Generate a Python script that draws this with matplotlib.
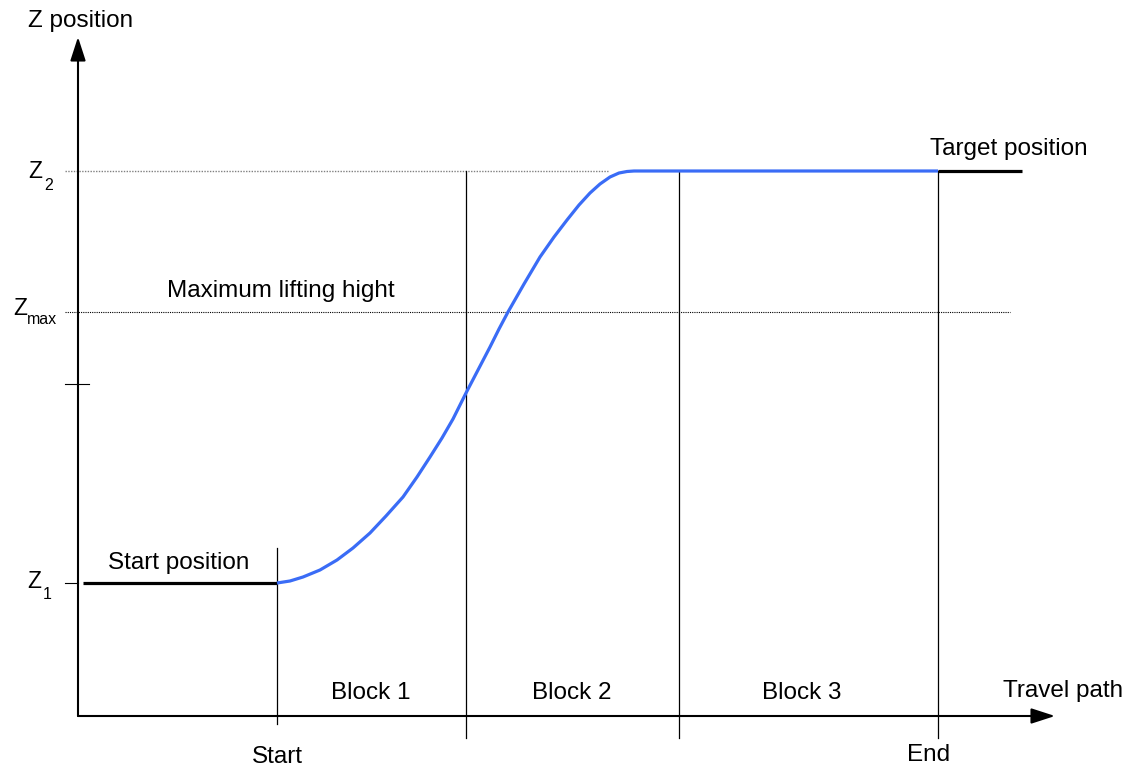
import matplotlib.pyplot as plt

plt.rcParams['font.family'] = ['Liberation Sans', 'DejaVu Sans']

# travel position (x) and Z height (z), units ~ pixels from the origin
z1 = 133
z2 = 545
z_max = 404
z_tick = 332

x_start = 199
x_block12 = 388
x_block23 = 601
x_end = 860

# lift curve (ends on the flat line to the End mark)
curve_x = [199, 212, 225, 242, 259, 275, 292, 308, 325, 339, 352, 364, 375, 388,
           400, 412, 421, 430, 446, 462, 476, 489, 501, 512, 522, 532, 541, 549, 556, 562, 860]
curve_z = [133, 135, 139, 146, 156, 168, 183, 200, 219, 239, 259, 278, 297, 323,
           346, 369, 387, 404, 432, 459, 479, 496, 511, 523, 532, 539, 543, 544.5, 545, 545, 545]

block_labels = ['Block 1', 'Block 2', 'Block 3']
block_centers = [293, 494, 724]

fig = plt.figure(figsize=(11.41, 7.70), dpi=100)
ax = fig.add_axes([0, 0, 1, 1])
ax.set_xlim(-78, 1063)
ax.set_ylim(-54, 716)
ax.axis('off')

fs = 17.5
blue = '#3a6cf6'

# axes with arrows
arr = dict(arrowstyle='-|>,head_length=1.45,head_width=0.47', mutation_scale=10,
           lw=1.5, color='black', shrinkA=0, shrinkB=0)
ax.annotate('', xy=(0, 679), xytext=(0, 0), arrowprops=arr)
ax.annotate('', xy=(977, 0), xytext=(0, 0), arrowprops=arr)

# reference lines
ax.plot([-13, 530], [z2, z2], color='gray', lw=1, ls=(0, (1, 1)))
ax.plot([-13, 932], [z_max, z_max], color='black', lw=0.8, ls=(0, (1, 1)))
ax.plot([-13, 11], [z_tick, z_tick], color='black', lw=0.8)
ax.plot([-13, 0], [z1, z1], color='black', lw=0.8)

# vertical block boundaries
ax.plot([x_start, x_start], [168, -8], color='black', lw=0.9)
for xb in [x_block12, x_block23, x_end]:
    ax.plot([xb, xb], [z2, -22], color='black', lw=0.9)

# start / target positions
ax.plot([5, x_start], [z1, z1], color='black', lw=2.3, solid_capstyle='butt')
ax.plot([x_end, 944], [z2, z2], color='black', lw=2.3, solid_capstyle='butt')

# path
ax.plot(curve_x, curve_z, color=blue, lw=2.3, solid_capstyle='butt',
        solid_joinstyle='round')

# texts
ax.text(-50, 689, 'Z position', fontsize=fs, ha='left', va='baseline')
ax.text(852, 561, 'Target position', fontsize=fs, ha='left', va='baseline')
ax.text(89, 419, 'Maximum lifting hight', fontsize=fs, ha='left', va='baseline')
ax.text(30, 147, 'Start position', fontsize=fs, ha='left', va='baseline')
for lab, xc in zip(block_labels, block_centers):
    ax.text(xc, 17, lab, fontsize=fs, ha='center', va='baseline')
ax.text(925, 19, 'Travel path', fontsize=fs, ha='left', va='baseline')
ax.text(x_start, -47, 'Start', fontsize=fs, ha='center', va='baseline')
ax.text(851, -45, 'End', fontsize=fs, ha='center', va='baseline')

# Z labels with subscripts
zs = 16.5
sub = 11.5
ax.text(-50, 538, 'Z', fontsize=zs, ha='left', va='baseline')
ax.text(-34, 526, '2', fontsize=sub, ha='left', va='baseline')
ax.text(-65, 401, 'Z', fontsize=zs, ha='left', va='baseline')
ax.text(-51, 392, 'max', fontsize=sub, ha='left', va='baseline')
ax.text(-51, 128, 'Z', fontsize=zs, ha='left', va='baseline')
ax.text(-35, 117, '1', fontsize=sub, ha='left', va='baseline')

fig.savefig('out.png', dpi=100)
